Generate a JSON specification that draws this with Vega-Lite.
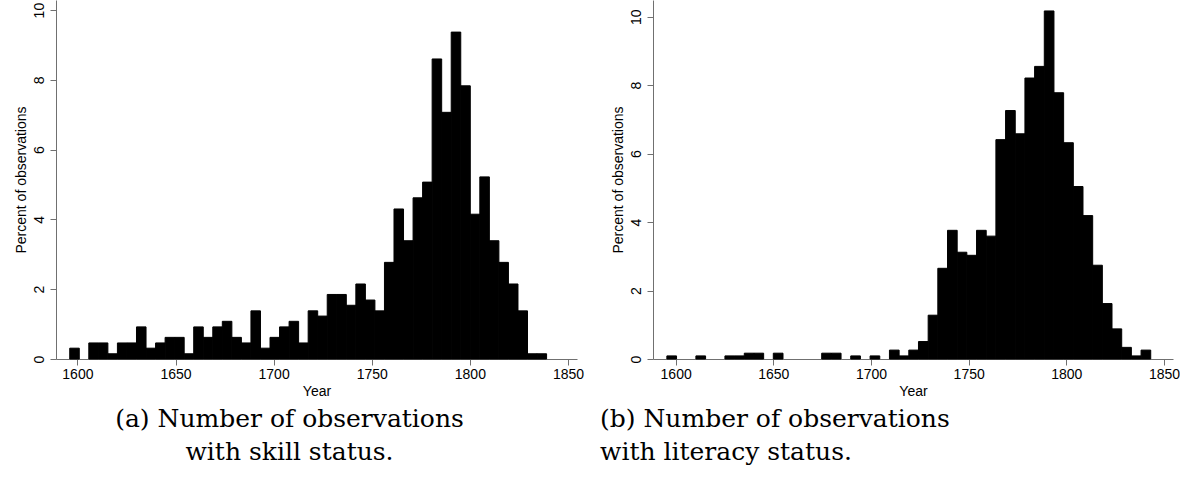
{
  "$schema": "https://vega.github.io/schema/vega-lite/v6.json",
  "background": "white",
  "padding": {"left": 14, "top": 0, "right": 0, "bottom": 0},
  "spacing": 16,
  "config": {
    "view": {"stroke": null},
    "font": "Liberation Sans",
    "axis": {
      "labelFont": "Liberation Sans",
      "labelFontSize": 14,
      "labelColor": "black",
      "titleFont": "Liberation Sans",
      "titleFontSize": 14,
      "titleFontWeight": "normal",
      "titleColor": "black",
      "domainColor": "#707070",
      "tickColor": "#707070",
      "tickSize": 6,
      "grid": false
    },
    "title": {
      "font": "DejaVu Serif",
      "fontSize": 25,
      "fontWeight": "normal",
      "color": "black",
      "lineHeight": 33
    }
  },
  "hconcat": [
    {
      "width": 521,
      "height": 359,
      "title": {"text": ["(a) Number of observations", "with skill status."], "orient": "bottom", "anchor": "middle", "align": "center", "offset": 9, "dx": -27},
      "data": {"values": [
        {"start": 1596.10, "end": 1600.96, "pct": 0.31},
        {"start": 1605.82, "end": 1610.68, "pct": 0.46},
        {"start": 1610.68, "end": 1615.54, "pct": 0.46},
        {"start": 1615.54, "end": 1620.40, "pct": 0.15},
        {"start": 1620.40, "end": 1625.26, "pct": 0.46},
        {"start": 1625.26, "end": 1630.12, "pct": 0.46},
        {"start": 1630.12, "end": 1634.98, "pct": 0.92},
        {"start": 1634.98, "end": 1639.84, "pct": 0.31},
        {"start": 1639.84, "end": 1644.70, "pct": 0.46},
        {"start": 1644.70, "end": 1649.56, "pct": 0.62},
        {"start": 1649.56, "end": 1654.42, "pct": 0.62},
        {"start": 1654.42, "end": 1659.28, "pct": 0.15},
        {"start": 1659.28, "end": 1664.14, "pct": 0.92},
        {"start": 1664.14, "end": 1669.00, "pct": 0.62},
        {"start": 1669.00, "end": 1673.86, "pct": 0.92},
        {"start": 1673.86, "end": 1678.72, "pct": 1.08},
        {"start": 1678.72, "end": 1683.58, "pct": 0.62},
        {"start": 1683.58, "end": 1688.44, "pct": 0.46},
        {"start": 1688.44, "end": 1693.30, "pct": 1.38},
        {"start": 1693.30, "end": 1698.16, "pct": 0.31},
        {"start": 1698.16, "end": 1703.02, "pct": 0.62},
        {"start": 1703.02, "end": 1707.88, "pct": 0.92},
        {"start": 1707.88, "end": 1712.74, "pct": 1.08},
        {"start": 1712.74, "end": 1717.60, "pct": 0.46},
        {"start": 1717.60, "end": 1722.46, "pct": 1.38},
        {"start": 1722.46, "end": 1727.32, "pct": 1.23},
        {"start": 1727.32, "end": 1732.18, "pct": 1.85},
        {"start": 1732.18, "end": 1737.04, "pct": 1.85},
        {"start": 1737.04, "end": 1741.90, "pct": 1.54},
        {"start": 1741.90, "end": 1746.76, "pct": 2.15},
        {"start": 1746.76, "end": 1751.62, "pct": 1.69},
        {"start": 1751.62, "end": 1756.48, "pct": 1.38},
        {"start": 1756.48, "end": 1761.34, "pct": 2.77},
        {"start": 1761.34, "end": 1766.20, "pct": 4.30},
        {"start": 1766.20, "end": 1771.06, "pct": 3.39},
        {"start": 1771.06, "end": 1775.92, "pct": 4.62},
        {"start": 1775.92, "end": 1780.78, "pct": 5.07},
        {"start": 1780.78, "end": 1785.64, "pct": 8.60},
        {"start": 1785.64, "end": 1790.50, "pct": 7.07},
        {"start": 1790.50, "end": 1795.36, "pct": 9.37},
        {"start": 1795.36, "end": 1800.22, "pct": 7.83},
        {"start": 1800.22, "end": 1805.08, "pct": 4.15},
        {"start": 1805.08, "end": 1809.94, "pct": 5.22},
        {"start": 1809.94, "end": 1814.80, "pct": 3.39},
        {"start": 1814.80, "end": 1819.66, "pct": 2.77},
        {"start": 1819.66, "end": 1824.52, "pct": 2.15},
        {"start": 1824.52, "end": 1829.38, "pct": 1.38},
        {"start": 1829.38, "end": 1834.24, "pct": 0.15},
        {"start": 1834.24, "end": 1839.10, "pct": 0.15}
      ]},
      "mark": {"type": "bar", "color": "black", "stroke": "black", "strokeWidth": 1},
      "encoding": {
        "x": {"field": "start", "type": "quantitative", "title": "Year",
              "scale": {"domain": [1589.1, 1854.6], "nice": false, "zero": false},
              "axis": {"values": [1600, 1650, 1700, 1750, 1800, 1850], "format": "d", "labelPadding": 2, "titlePadding": 3}},
        "x2": {"field": "end"},
        "y": {"field": "pct", "type": "quantitative", "title": "Percent of observations",
              "scale": {"domain": [0, 10.29], "nice": false},
              "axis": {"values": [0, 2, 4, 6, 8, 10], "labelAngle": -90, "labelAlign": "center", "labelBaseline": "bottom", "labelPadding": 4, "titlePadding": 4}},
        "y2": {"datum": 0}
      }
    },
    {
      "width": 520,
      "height": 359,
      "title": {"text": ["(b) Number of observations", "with literacy status."], "orient": "bottom", "anchor": "start", "align": "left", "offset": 9, "dx": -11},
      "data": {"values": [
        {"start": 1595.50, "end": 1600.45, "pct": 0.09},
        {"start": 1610.36, "end": 1615.32, "pct": 0.09},
        {"start": 1625.22, "end": 1630.18, "pct": 0.09},
        {"start": 1630.18, "end": 1635.13, "pct": 0.09},
        {"start": 1635.13, "end": 1640.09, "pct": 0.17},
        {"start": 1640.09, "end": 1645.04, "pct": 0.17},
        {"start": 1649.99, "end": 1654.95, "pct": 0.17},
        {"start": 1674.76, "end": 1679.72, "pct": 0.17},
        {"start": 1679.72, "end": 1684.67, "pct": 0.17},
        {"start": 1689.63, "end": 1694.58, "pct": 0.09},
        {"start": 1699.53, "end": 1704.49, "pct": 0.09},
        {"start": 1709.44, "end": 1714.40, "pct": 0.26},
        {"start": 1714.40, "end": 1719.35, "pct": 0.09},
        {"start": 1719.35, "end": 1724.30, "pct": 0.26},
        {"start": 1724.30, "end": 1729.26, "pct": 0.51},
        {"start": 1729.26, "end": 1734.21, "pct": 1.28},
        {"start": 1734.21, "end": 1739.17, "pct": 2.65},
        {"start": 1739.17, "end": 1744.12, "pct": 3.76},
        {"start": 1744.12, "end": 1749.07, "pct": 3.12},
        {"start": 1749.07, "end": 1754.03, "pct": 3.03},
        {"start": 1754.03, "end": 1758.98, "pct": 3.76},
        {"start": 1758.98, "end": 1763.94, "pct": 3.59},
        {"start": 1763.94, "end": 1768.89, "pct": 6.41},
        {"start": 1768.89, "end": 1773.84, "pct": 7.26},
        {"start": 1773.84, "end": 1778.80, "pct": 6.58},
        {"start": 1778.80, "end": 1783.75, "pct": 8.21},
        {"start": 1783.75, "end": 1788.71, "pct": 8.55},
        {"start": 1788.71, "end": 1793.66, "pct": 10.17},
        {"start": 1793.66, "end": 1798.61, "pct": 7.78},
        {"start": 1798.61, "end": 1803.57, "pct": 6.32},
        {"start": 1803.57, "end": 1808.52, "pct": 5.04},
        {"start": 1808.52, "end": 1813.48, "pct": 4.19},
        {"start": 1813.48, "end": 1818.43, "pct": 2.74},
        {"start": 1818.43, "end": 1823.38, "pct": 1.62},
        {"start": 1823.38, "end": 1828.34, "pct": 0.88},
        {"start": 1828.34, "end": 1833.29, "pct": 0.34},
        {"start": 1833.29, "end": 1838.25, "pct": 0.09},
        {"start": 1838.25, "end": 1843.20, "pct": 0.26}
      ]},
      "mark": {"type": "bar", "color": "black", "stroke": "black", "strokeWidth": 1},
      "encoding": {
        "x": {"field": "start", "type": "quantitative", "title": "Year",
              "scale": {"domain": [1588.4, 1854.6], "nice": false, "zero": false},
              "axis": {"values": [1600, 1650, 1700, 1750, 1800, 1850], "format": "d", "labelPadding": 2, "titlePadding": 3}},
        "x2": {"field": "end"},
        "y": {"field": "pct", "type": "quantitative", "title": "Percent of observations",
              "scale": {"domain": [0, 10.49], "nice": false},
              "axis": {"values": [0, 2, 4, 6, 8, 10], "labelAngle": -90, "labelAlign": "center", "labelBaseline": "bottom", "labelPadding": 4, "titlePadding": 4}},
        "y2": {"datum": 0}
      }
    }
  ]
}
